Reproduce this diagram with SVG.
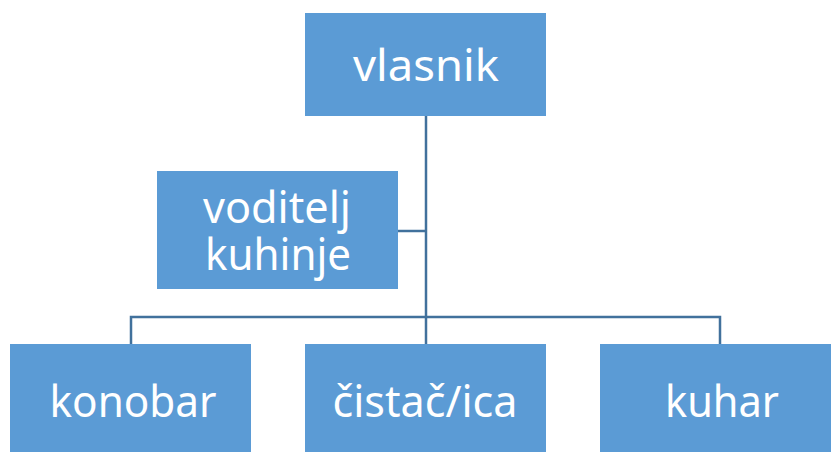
<svg xmlns="http://www.w3.org/2000/svg" width="831" height="455" viewBox="0 0 831 455">
<style>
.box{fill:#5B9BD5;}
.lbl{fill:#FFFFFF;font-family:"Noto Sans","Open Sans","Liberation Sans",sans-serif;font-size:44px;text-anchor:middle;}
.conn{stroke:#41719C;stroke-width:2.5;fill:none;}
</style>
<rect width="831" height="455" fill="#FFFFFF"/>
<g id="connectors">
<path class="conn" d="M426,116 V344"/>
<path class="conn" d="M131,344 V317 H720 V344"/>
<path class="conn" d="M398,231 H426"/>
</g>
<g id="vlasnik">
<rect class="box" x="305" y="13" width="241" height="103"/>
<text class="lbl" x="426" y="81" textLength="146" lengthAdjust="spacingAndGlyphs">vlasnik</text>
</g>
<g id="voditelj">
<rect class="box" x="157" y="171" width="241" height="118"/>
<text class="lbl" x="277" y="223" textLength="148" lengthAdjust="spacingAndGlyphs">voditelj</text>
<text class="lbl" x="278" y="270" textLength="146" lengthAdjust="spacingAndGlyphs">kuhinje</text>
</g>
<g id="konobar">
<rect class="box" x="10" y="344" width="241" height="108"/>
<text class="lbl" x="133" y="417" textLength="167" lengthAdjust="spacingAndGlyphs">konobar</text>
</g>
<g id="cistac">
<rect class="box" x="305" y="344" width="241" height="108"/>
<text class="lbl" x="425" y="417" textLength="185" lengthAdjust="spacingAndGlyphs">čistač/ica</text>
</g>
<g id="kuhar">
<rect class="box" x="600" y="344" width="231" height="108"/>
<text class="lbl" x="722" y="417" textLength="114" lengthAdjust="spacingAndGlyphs">kuhar</text>
</g>
</svg>
